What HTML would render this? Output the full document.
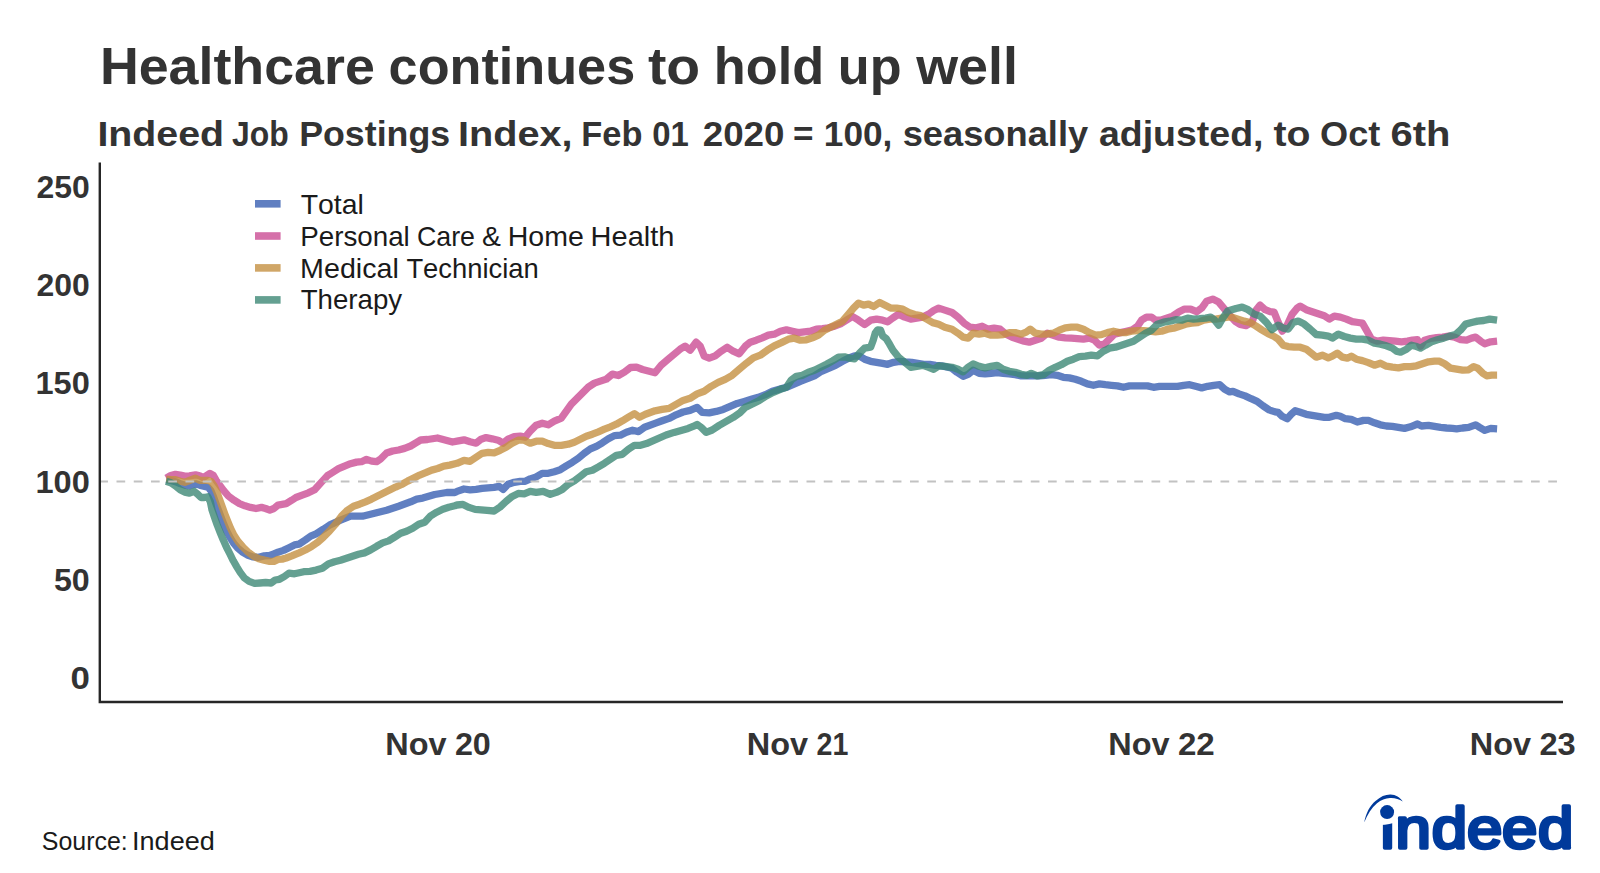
<!DOCTYPE html>
<html lang="en"><head><meta charset="utf-8"><title>Healthcare continues to hold up well</title>
<style>
html,body{margin:0;padding:0;background:#fff;}
body{width:1600px;height:873px;overflow:hidden;font-family:"Liberation Sans",sans-serif;}
svg{display:block;}
text{font-family:"Liberation Sans",sans-serif;font-kerning:none;white-space:pre;}
.b{font-weight:700;fill:#333333;}
.r{font-weight:400;fill:#1a1a1a;}
.title{font-size:52px;}
.sub{font-size:35.6px;}
.tick{font-size:32px;}
.leg{font-size:27.2px;}
.src{font-size:25px;}
.logo{font-weight:400;fill:#003a9b;stroke:#003a9b;stroke-width:3.4;stroke-linejoin:round;stroke-linecap:round;font-size:57.8px;}
</style></head>
<body>
<svg width="1600" height="873" viewBox="0 0 1600 873">
<rect width="1600" height="873" fill="#ffffff"/>
<text class="b title" y="84.0"><tspan x="99.9" textLength="274.9" lengthAdjust="spacingAndGlyphs">Healthcare</tspan> <tspan x="388.6" textLength="246.6" lengthAdjust="spacingAndGlyphs">continues</tspan> <tspan x="647.9" textLength="52.2" lengthAdjust="spacingAndGlyphs">to</tspan> <tspan x="713.8" textLength="110.3" lengthAdjust="spacingAndGlyphs">hold</tspan> <tspan x="837.8" textLength="63.8" lengthAdjust="spacingAndGlyphs">up</tspan> <tspan x="916.2" textLength="101.7" lengthAdjust="spacingAndGlyphs">well</tspan></text>
<text class="b sub" y="145.9"><tspan x="97.4" textLength="126.6" lengthAdjust="spacingAndGlyphs">Indeed</tspan> <tspan x="232.0" textLength="56.7" lengthAdjust="spacingAndGlyphs">Job</tspan> <tspan x="299.2" textLength="150.9" lengthAdjust="spacingAndGlyphs">Postings</tspan> <tspan x="457.9" textLength="114.7" lengthAdjust="spacingAndGlyphs">Index,</tspan> <tspan x="581.3" textLength="61.1" lengthAdjust="spacingAndGlyphs">Feb</tspan> <tspan x="652.3" textLength="36.6" lengthAdjust="spacingAndGlyphs">01</tspan> <tspan x="702.7" textLength="81.8" lengthAdjust="spacingAndGlyphs">2020</tspan> <tspan x="792.9" textLength="20.5" lengthAdjust="spacingAndGlyphs">=</tspan> <tspan x="823.8" textLength="68.6" lengthAdjust="spacingAndGlyphs">100,</tspan> <tspan x="902.7" textLength="185.5" lengthAdjust="spacingAndGlyphs">seasonally</tspan> <tspan x="1098.9" textLength="164.6" lengthAdjust="spacingAndGlyphs">adjusted,</tspan> <tspan x="1273.5" textLength="37.0" lengthAdjust="spacingAndGlyphs">to</tspan> <tspan x="1320.1" textLength="60.3" lengthAdjust="spacingAndGlyphs">Oct</tspan> <tspan x="1390.5" textLength="59.9" lengthAdjust="spacingAndGlyphs">6th</tspan></text>
<g id="series">
<path d="M166.2 479.7 L170.8 480.5 L175.5 481.7 L180.1 483.6 L184.7 485.1 L189.4 485.9 L195.5 483.8 L199.6 485.1 L203.8 486.2 L207.9 487.2 L210.9 490.6 L213.2 496.1 L215.7 503.0 L218.3 509.9 L221.1 517.4 L223.8 524.3 L226.8 531.2 L230.0 537.4 L233.4 542.9 L237.4 547.7 L242.1 551.8 L247.3 555.0 L252.6 556.9 L258.8 557.3 L264.2 555.9 L269.8 555.5 L273.9 553.9 L278.0 552.2 L283.5 550.4 L289.0 547.7 L294.5 544.9 L299.1 544.1 L305.3 540.0 L310.7 536.1 L316.1 533.8 L323.4 529.2 L329.4 525.2 L340.5 520.2 L350.5 516.2 L362.5 516.2 L374.6 513.2 L386.6 510.2 L398.6 506.2 L410.7 501.8 L416.7 499.1 L422.7 498.1 L434.7 494.5 L446.7 492.5 L454.8 492.5 L457.0 491.4 L464.0 489.0 L470.1 489.8 L476.1 489.4 L482.1 488.4 L488.1 487.8 L494.1 487.4 L499.1 486.4 L503.1 489.4 L508.1 484.3 L514.2 482.3 L520.2 481.3 L525.2 481.3 L530.2 478.9 L536.2 476.9 L542.2 473.3 L548.2 473.3 L554.3 471.7 L560.3 469.7 L566.3 465.9 L572.3 462.3 L578.3 458.3 L584.3 453.3 L590.4 448.9 L596.4 446.3 L602.4 442.8 L608.4 438.8 L614.4 435.6 L620.4 435.2 L626.4 432.2 L632.5 430.2 L638.5 431.6 L644.5 427.2 L655.0 423.4 L662.1 420.8 L669.1 418.4 L676.1 414.8 L683.1 412.0 L690.1 410.4 L697.1 407.4 L702.2 412.4 L709.2 412.8 L716.2 411.4 L723.2 409.4 L730.2 406.4 L737.2 403.4 L744.3 401.4 L751.3 399.3 L758.3 397.3 L765.3 394.7 L772.3 391.3 L779.3 389.3 L786.4 387.3 L793.4 384.3 L800.4 381.3 L807.4 378.7 L814.4 375.9 L821.5 371.3 L828.5 368.3 L835.5 365.3 L842.5 361.3 L848.5 358.2 L854.5 355.8 L859.5 356.2 L864.6 359.2 L870.6 361.3 L876.6 362.3 L882.6 363.3 L887.6 364.3 L893.6 362.3 L899.6 361.3 L905.7 361.9 L911.7 362.3 L917.7 363.3 L923.7 364.3 L929.7 364.3 L935.7 365.3 L941.8 365.9 L947.8 367.3 L952.0 368.3 L957.0 372.3 L963.1 376.3 L968.1 374.3 L973.1 370.3 L979.1 373.3 L985.1 373.9 L991.1 373.3 L997.1 372.7 L1003.2 373.3 L1009.2 373.9 L1015.2 374.7 L1021.2 375.9 L1027.2 375.9 L1033.2 375.9 L1039.2 375.9 L1045.3 375.3 L1051.3 374.7 L1057.3 375.3 L1063.3 377.3 L1069.3 377.9 L1075.3 379.3 L1081.4 381.3 L1087.4 383.9 L1093.4 385.3 L1099.4 383.9 L1105.4 384.7 L1111.4 385.3 L1117.4 385.9 L1123.5 387.3 L1129.5 385.9 L1135.5 385.9 L1141.5 385.9 L1147.5 385.9 L1153.5 387.3 L1159.5 386.3 L1165.6 386.3 L1171.6 386.3 L1177.6 386.3 L1183.6 385.3 L1189.6 384.7 L1195.6 386.3 L1201.7 387.9 L1207.7 386.3 L1213.7 385.3 L1219.7 384.7 L1224.7 389.3 L1229.7 391.9 L1233.0 391.3 L1239.0 393.9 L1245.1 395.9 L1251.1 398.7 L1257.1 401.3 L1263.1 405.9 L1269.1 409.9 L1275.1 411.9 L1278.1 412.3 L1282.2 416.3 L1287.2 418.7 L1291.2 414.3 L1295.2 410.7 L1300.2 412.3 L1306.2 414.3 L1312.2 415.3 L1318.2 416.3 L1324.3 417.3 L1329.3 417.3 L1336.3 415.3 L1340.3 416.3 L1345.3 418.7 L1351.3 419.3 L1357.3 422.0 L1363.4 420.4 L1368.4 420.4 L1374.4 422.8 L1380.4 424.8 L1386.4 426.0 L1392.4 426.4 L1398.4 427.4 L1404.5 428.4 L1410.5 426.8 L1417.5 424.0 L1421.5 426.0 L1428.5 425.4 L1434.5 426.4 L1440.6 427.4 L1446.6 428.0 L1452.6 428.4 L1456.6 428.8 L1462.6 428.0 L1468.6 427.4 L1475.6 424.8 L1479.6 427.4 L1484.7 430.4 L1490.7 428.4 L1497.1 428.8" fill="none" stroke="#385fb1" stroke-opacity="0.8" stroke-width="7.3" stroke-linejoin="round" stroke-linecap="butt"/>
<path d="M166.2 478.1 L170.8 475.5 L175.5 474.3 L180.1 475.0 L184.7 476.1 L189.4 475.8 L195.5 474.8 L199.6 475.8 L203.1 477.6 L206.5 475.5 L209.9 473.4 L213.4 475.5 L216.1 480.3 L219.6 485.1 L223.7 490.6 L228.5 496.1 L234.0 500.2 L239.5 503.7 L245.0 505.8 L250.5 507.4 L256.0 508.5 L261.5 507.4 L265.6 508.5 L269.8 510.1 L273.9 508.5 L278.0 505.1 L282.1 504.4 L286.2 503.7 L291.8 500.2 L295.9 497.5 L302.2 495.1 L308.4 492.8 L314.6 489.7 L322.4 481.1 L327.4 475.7 L332.5 472.5 L338.5 468.7 L344.5 466.1 L350.5 463.7 L356.5 462.1 L361.5 461.7 L366.5 459.4 L371.6 461.1 L376.6 461.7 L380.6 459.0 L386.6 453.0 L392.6 451.0 L398.6 450.0 L404.6 448.4 L410.7 446.0 L416.7 442.4 L420.7 440.0 L427.5 439.5 L437.5 438.0 L445.0 440.0 L452.5 442.0 L457.0 441.2 L464.0 439.8 L470.1 441.8 L476.1 443.2 L481.1 439.2 L486.1 437.6 L492.1 438.8 L498.1 440.2 L503.1 443.2 L508.1 439.2 L514.2 436.6 L520.2 436.2 L525.2 437.2 L530.2 431.2 L536.2 425.2 L542.2 423.2 L548.2 424.8 L554.3 421.2 L561.3 418.2 L566.3 411.2 L571.3 404.1 L577.3 398.1 L583.3 392.1 L588.3 387.1 L594.4 383.1 L600.4 381.1 L606.4 379.1 L612.4 374.1 L618.4 375.5 L624.4 372.1 L630.5 367.5 L636.5 367.1 L642.5 369.5 L655.0 372.7 L661.1 365.3 L668.1 359.2 L674.1 354.2 L680.1 349.2 L685.1 346.2 L690.1 350.2 L696.1 342.2 L700.2 346.2 L704.2 356.2 L709.2 358.2 L715.2 355.8 L721.2 351.2 L727.2 347.2 L733.2 351.2 L739.2 353.8 L745.3 346.2 L750.3 342.2 L756.3 340.2 L762.3 337.8 L768.3 335.2 L774.3 334.2 L780.4 331.2 L786.4 329.8 L792.4 331.2 L798.4 332.6 L804.4 331.8 L810.4 331.2 L816.4 329.2 L822.5 328.6 L828.5 327.8 L834.5 326.2 L840.5 323.8 L846.5 320.2 L852.5 316.5 L858.5 320.2 L864.6 324.6 L870.6 320.2 L876.6 319.1 L882.6 320.2 L887.6 321.8 L892.6 318.1 L898.6 314.1 L904.7 317.1 L910.7 319.1 L916.7 318.1 L922.7 317.1 L928.7 314.1 L933.7 310.5 L938.7 308.1 L944.8 310.1 L952.0 312.5 L958.0 317.1 L964.1 323.2 L970.1 327.2 L976.1 327.8 L982.1 326.2 L988.1 329.2 L994.1 328.2 L1000.2 329.2 L1006.2 334.2 L1012.2 337.2 L1018.2 339.2 L1024.2 341.2 L1029.2 342.2 L1035.2 340.2 L1041.3 338.2 L1047.3 333.2 L1053.3 335.2 L1059.3 337.2 L1065.3 337.8 L1071.3 338.2 L1077.3 338.6 L1083.4 339.2 L1089.4 338.2 L1094.4 340.2 L1099.4 345.2 L1104.4 344.2 L1109.4 339.2 L1114.4 334.2 L1120.5 332.6 L1126.5 331.2 L1132.5 329.8 L1137.5 326.2 L1141.5 320.2 L1146.5 317.1 L1151.5 317.1 L1155.5 320.2 L1160.6 320.2 L1166.6 318.1 L1172.6 316.1 L1178.6 312.1 L1184.6 309.1 L1190.6 309.1 L1196.6 311.7 L1201.7 308.1 L1206.7 301.1 L1212.7 299.1 L1218.7 302.1 L1223.7 308.1 L1228.7 314.1 L1235.0 321.1 L1240.1 324.5 L1246.1 325.7 L1252.1 322.1 L1256.1 310.1 L1260.1 305.1 L1265.1 309.7 L1270.1 311.7 L1274.1 312.1 L1278.1 322.1 L1282.2 331.1 L1287.2 325.1 L1292.2 314.1 L1297.2 308.1 L1300.2 306.1 L1306.2 309.7 L1312.2 311.7 L1318.2 313.7 L1324.3 315.7 L1329.3 319.1 L1334.3 316.1 L1340.3 317.1 L1346.3 319.1 L1352.3 321.7 L1358.3 322.5 L1362.4 323.1 L1366.4 330.1 L1371.4 339.1 L1377.4 341.2 L1383.4 340.2 L1389.4 340.6 L1395.4 341.2 L1401.5 341.8 L1407.5 341.2 L1412.5 340.2 L1417.5 339.7 L1420.5 346.2 L1424.5 340.2 L1430.5 338.5 L1436.5 337.7 L1442.6 337.1 L1448.6 336.1 L1454.6 337.1 L1460.6 339.7 L1466.6 340.2 L1471.6 338.1 L1475.6 337.1 L1480.7 341.2 L1484.7 343.8 L1490.7 341.8 L1497.1 341.2" fill="none" stroke="#cb4c94" stroke-opacity="0.8" stroke-width="7.3" stroke-linejoin="round" stroke-linecap="butt"/>
<path d="M166.2 479.2 L170.8 479.7 L175.5 479.7 L180.1 481.2 L184.7 482.3 L189.4 480.5 L195.5 478.2 L199.6 480.3 L203.8 480.3 L207.9 480.3 L211.3 481.7 L214.1 485.8 L216.8 492.0 L219.6 499.6 L222.3 507.1 L225.1 514.7 L227.8 521.6 L230.6 528.4 L234.0 535.3 L238.1 541.5 L242.9 547.0 L247.8 551.8 L253.2 555.9 L258.8 558.7 L264.2 560.1 L269.8 561.4 L273.9 561.4 L278.0 559.4 L282.1 559.1 L286.2 558.0 L291.8 555.9 L295.9 554.1 L299.1 552.8 L305.3 550.0 L311.5 546.6 L317.7 542.3 L323.4 537.2 L329.4 531.2 L335.5 524.2 L341.5 516.2 L347.5 510.2 L353.5 506.2 L359.5 504.2 L365.5 501.8 L371.6 499.1 L377.6 496.1 L383.6 493.1 L389.6 490.1 L395.6 487.1 L401.6 484.5 L407.6 481.1 L413.7 478.1 L419.7 475.1 L425.7 472.7 L431.7 470.1 L437.7 468.5 L443.7 466.1 L449.7 465.1 L457.0 463.3 L464.0 460.3 L470.1 461.3 L476.1 457.3 L482.1 453.3 L488.1 452.3 L494.1 452.9 L500.1 450.3 L506.1 447.3 L512.2 443.2 L518.2 440.2 L524.2 440.2 L530.2 443.2 L536.2 441.2 L542.2 441.2 L548.2 443.6 L554.3 445.3 L561.3 445.3 L568.3 444.2 L574.3 442.2 L580.3 439.2 L586.3 436.2 L592.4 434.2 L598.4 431.8 L604.4 429.2 L610.4 426.8 L616.4 424.2 L622.4 420.8 L628.4 417.2 L634.5 413.6 L639.5 417.2 L645.5 414.2 L655.0 410.8 L662.1 409.4 L669.1 408.4 L676.1 404.4 L683.1 400.4 L690.1 398.3 L697.1 393.9 L704.2 391.3 L711.2 386.3 L718.2 382.3 L725.2 379.3 L732.2 375.3 L739.2 369.3 L746.3 363.3 L753.3 357.8 L760.3 355.2 L767.3 350.2 L774.3 345.8 L781.4 342.6 L788.4 339.2 L794.4 338.2 L800.4 340.2 L806.4 339.8 L812.4 337.8 L818.4 335.2 L824.5 330.2 L830.5 327.2 L836.5 324.2 L842.5 321.2 L848.5 314.1 L853.5 308.1 L858.5 303.1 L863.6 305.1 L868.6 304.1 L873.6 306.5 L879.6 302.5 L884.6 305.1 L890.6 308.1 L896.6 308.1 L902.7 309.1 L908.7 312.5 L914.7 314.5 L920.7 315.7 L926.7 319.1 L932.7 322.6 L938.7 324.2 L944.8 327.2 L952.0 329.2 L958.0 333.2 L963.1 337.2 L968.1 338.2 L973.1 333.2 L979.1 334.2 L985.1 333.2 L991.1 335.2 L997.1 335.2 L1003.2 334.6 L1009.2 332.6 L1015.2 332.6 L1021.2 334.2 L1026.2 332.2 L1030.2 329.2 L1035.2 333.2 L1041.3 334.2 L1047.3 333.8 L1053.3 333.2 L1059.3 330.2 L1065.3 327.8 L1071.3 327.2 L1077.3 327.2 L1083.4 329.2 L1089.4 332.6 L1095.4 335.2 L1101.4 334.6 L1107.4 332.6 L1113.4 331.2 L1119.4 332.6 L1125.5 332.6 L1131.5 331.2 L1137.5 330.6 L1143.5 330.6 L1149.5 331.2 L1155.5 331.8 L1161.6 331.2 L1167.6 329.2 L1173.6 328.2 L1179.6 326.2 L1185.6 324.2 L1191.6 323.2 L1197.6 322.6 L1203.7 320.2 L1209.7 319.1 L1215.7 319.1 L1221.7 318.1 L1227.7 317.1 L1232.0 317.1 L1238.0 319.1 L1244.1 321.1 L1250.1 322.5 L1256.1 326.1 L1262.1 330.1 L1268.1 333.7 L1274.1 336.5 L1278.1 339.1 L1283.2 345.2 L1288.2 346.6 L1294.2 347.2 L1300.2 347.2 L1306.2 349.2 L1311.2 353.2 L1316.2 357.2 L1322.3 355.2 L1328.3 357.8 L1332.3 356.2 L1337.3 353.2 L1342.3 357.2 L1347.3 358.2 L1351.3 356.2 L1356.3 359.2 L1362.4 360.6 L1368.4 362.6 L1374.4 365.2 L1380.4 363.2 L1386.4 366.2 L1392.4 367.2 L1398.4 367.8 L1404.5 366.6 L1410.5 366.6 L1416.5 365.8 L1422.5 363.8 L1428.5 361.8 L1434.5 361.2 L1439.5 361.2 L1444.6 363.8 L1450.6 368.2 L1456.6 369.2 L1462.6 370.2 L1468.6 369.8 L1473.6 366.6 L1477.6 368.2 L1482.7 373.2 L1486.7 375.8 L1491.7 375.2 L1497.1 375.2" fill="none" stroke="#c49041" stroke-opacity="0.8" stroke-width="7.3" stroke-linejoin="round" stroke-linecap="butt"/>
<path d="M166.2 481.2 L170.8 482.8 L175.5 485.9 L180.1 489.7 L184.7 492.1 L189.4 493.1 L194.1 491.3 L197.6 494.1 L201.0 497.5 L204.4 497.5 L207.9 496.8 L210.3 501.6 L212.0 509.9 L214.5 517.4 L217.2 525.0 L220.2 532.6 L223.3 540.1 L226.4 547.0 L229.9 553.9 L233.3 560.8 L236.8 566.9 L240.2 572.4 L244.3 577.9 L249.1 581.4 L254.6 583.4 L260.1 583.0 L265.6 582.5 L271.1 583.0 L275.2 580.0 L279.4 579.3 L284.2 576.6 L289.0 573.1 L294.5 573.8 L303.8 571.7 L310.0 571.4 L316.1 570.1 L322.4 568.3 L328.4 563.9 L334.5 561.7 L340.5 560.3 L346.5 558.3 L352.5 556.3 L358.5 554.3 L364.5 552.9 L370.6 549.9 L376.6 546.3 L382.6 542.9 L388.6 540.9 L394.6 537.2 L400.6 533.2 L406.6 531.2 L412.7 528.2 L418.7 524.2 L424.7 522.2 L430.7 515.8 L436.7 512.2 L442.7 509.2 L448.7 507.2 L454.8 505.8 L457.0 505.0 L463.0 504.4 L469.0 507.4 L475.1 509.4 L481.1 509.8 L487.1 510.4 L494.1 511.0 L500.1 507.0 L506.1 501.4 L512.2 496.4 L518.2 493.4 L524.2 493.8 L530.2 491.4 L536.2 492.4 L543.2 491.4 L550.3 494.4 L556.3 492.4 L562.3 489.4 L568.3 484.3 L574.3 480.9 L580.3 476.3 L586.3 471.7 L592.4 470.3 L598.4 466.9 L604.4 463.3 L610.4 459.3 L616.4 455.3 L622.4 454.3 L628.4 449.3 L634.5 445.3 L640.5 445.3 L646.5 443.6 L666.1 435.0 L674.1 432.4 L681.1 430.4 L688.1 428.4 L693.1 426.4 L697.1 424.4 L701.2 427.4 L706.2 432.4 L712.2 430.0 L719.2 425.4 L726.2 421.4 L733.2 417.4 L740.3 412.4 L745.3 407.4 L752.3 404.0 L759.3 400.4 L766.3 395.9 L773.3 392.3 L780.4 389.3 L786.4 387.3 L791.4 379.9 L796.4 376.3 L802.4 375.3 L808.4 372.3 L814.4 370.3 L820.5 367.3 L826.5 364.3 L832.5 360.9 L838.5 357.2 L844.5 356.8 L849.5 358.2 L854.5 358.8 L859.5 353.2 L864.6 348.2 L870.6 347.2 L873.2 340.2 L875.2 333.2 L877.6 329.8 L880.6 330.2 L882.6 335.8 L886.2 338.6 L889.6 344.2 L893.0 350.2 L898.6 357.2 L904.7 362.3 L910.7 367.3 L916.7 366.3 L922.7 365.3 L928.7 367.3 L933.7 369.3 L938.7 365.9 L944.8 366.3 L952.0 367.3 L958.0 369.3 L963.1 371.9 L968.1 367.3 L973.1 363.9 L979.1 366.3 L985.1 367.9 L991.1 366.3 L997.1 365.3 L1003.2 369.3 L1009.2 371.3 L1015.2 372.3 L1021.2 374.3 L1027.2 375.3 L1031.2 373.3 L1037.2 375.9 L1043.3 374.7 L1049.3 370.3 L1055.3 367.3 L1061.3 364.7 L1067.3 361.3 L1073.3 359.2 L1079.3 356.6 L1085.4 356.2 L1091.4 355.2 L1097.4 355.8 L1103.4 351.2 L1109.4 348.2 L1115.4 347.2 L1121.5 345.2 L1127.5 343.2 L1133.5 341.2 L1139.5 337.2 L1145.5 333.2 L1151.5 330.2 L1157.5 324.2 L1163.6 322.2 L1169.6 321.2 L1175.6 319.7 L1181.6 320.2 L1187.6 318.1 L1193.6 319.1 L1199.6 318.7 L1205.7 318.1 L1210.7 317.1 L1214.7 320.2 L1218.7 325.2 L1222.7 318.1 L1227.7 311.1 L1236.0 308.5 L1242.1 307.1 L1248.1 309.7 L1254.1 314.1 L1260.1 316.1 L1266.1 322.1 L1272.1 329.7 L1278.1 325.1 L1283.2 328.1 L1288.2 329.1 L1293.2 322.5 L1298.2 321.1 L1304.2 324.1 L1310.2 329.1 L1316.2 334.5 L1322.3 335.1 L1328.3 336.1 L1332.3 338.1 L1338.3 334.1 L1344.3 336.5 L1350.3 338.1 L1356.3 339.1 L1362.4 339.1 L1368.4 340.2 L1374.4 343.2 L1380.4 344.2 L1386.4 345.8 L1392.4 348.2 L1396.4 351.2 L1400.5 352.2 L1406.5 349.2 L1411.5 345.2 L1415.5 346.2 L1420.5 348.2 L1425.5 345.2 L1431.5 341.8 L1437.5 339.7 L1443.6 338.1 L1449.6 336.1 L1455.6 334.5 L1460.6 330.1 L1465.6 324.1 L1471.6 322.5 L1477.6 321.1 L1483.7 320.5 L1489.7 319.1 L1497.1 320.1" fill="none" stroke="#3d8876" stroke-opacity="0.8" stroke-width="7.3" stroke-linejoin="round" stroke-linecap="butt"/>
</g>
<line x1="99.25" y1="481.5" x2="1563" y2="481.5" stroke="#c2c2c2" stroke-width="2.2" stroke-dasharray="8.7 8.55"/>
<path d="M99.8 162.4 V702 H1563" fill="none" stroke="#262626" stroke-width="2.4"/>
<g id="yticks">
<text class="b tick" y="198.1"><tspan x="36.4" textLength="53.3" lengthAdjust="spacingAndGlyphs">250</tspan></text>
<text class="b tick" y="296.3"><tspan x="36.4" textLength="53.3" lengthAdjust="spacingAndGlyphs">200</tspan></text>
<text class="b tick" y="394.4"><tspan x="35.5" textLength="54.3" lengthAdjust="spacingAndGlyphs">150</tspan></text>
<text class="b tick" y="492.6"><tspan x="35.5" textLength="54.3" lengthAdjust="spacingAndGlyphs">100</tspan></text>
<text class="b tick" y="590.7"><tspan x="53.9" textLength="35.8" lengthAdjust="spacingAndGlyphs">50</tspan></text>
<text class="b tick" y="688.9"><tspan x="70.4" textLength="19.4" lengthAdjust="spacingAndGlyphs">0</tspan></text>
</g>
<g id="xticks">
<text class="b tick" y="754.8"><tspan x="385.3" textLength="61.3" lengthAdjust="spacingAndGlyphs">Nov</tspan> <tspan x="454.9" textLength="35.9" lengthAdjust="spacingAndGlyphs">20</tspan></text>
<text class="b tick" y="754.8"><tspan x="746.8" textLength="61.3" lengthAdjust="spacingAndGlyphs">Nov</tspan> <tspan x="816.5" textLength="31.8" lengthAdjust="spacingAndGlyphs">21</tspan></text>
<text class="b tick" y="754.8"><tspan x="1108.3" textLength="61.3" lengthAdjust="spacingAndGlyphs">Nov</tspan> <tspan x="1177.9" textLength="36.8" lengthAdjust="spacingAndGlyphs">22</tspan></text>
<text class="b tick" y="754.8"><tspan x="1469.8" textLength="61.3" lengthAdjust="spacingAndGlyphs">Nov</tspan> <tspan x="1539.4" textLength="36.3" lengthAdjust="spacingAndGlyphs">23</tspan></text>
</g>
<g id="legend">
<rect x="255" y="200.0" width="25.6" height="7.6" fill="#385fb1" fill-opacity="0.8"/>
<text class="r leg" y="213.8"><tspan x="300.7" textLength="63.2" lengthAdjust="spacingAndGlyphs">Total</tspan></text>
<rect x="255" y="232.2" width="25.6" height="7.6" fill="#cb4c94" fill-opacity="0.8"/>
<text class="r leg" y="245.8"><tspan x="300.2" textLength="109.6" lengthAdjust="spacingAndGlyphs">Personal</tspan> <tspan x="416.9" textLength="58.1" lengthAdjust="spacingAndGlyphs">Care</tspan> <tspan x="482.0" textLength="18.9" lengthAdjust="spacingAndGlyphs">&amp;</tspan> <tspan x="507.7" textLength="76.1" lengthAdjust="spacingAndGlyphs">Home</tspan> <tspan x="590.6" textLength="83.8" lengthAdjust="spacingAndGlyphs">Health</tspan></text>
<rect x="255" y="264.1" width="25.6" height="7.6" fill="#c49041" fill-opacity="0.8"/>
<text class="r leg" y="277.5"><tspan x="300.1" textLength="98.8" lengthAdjust="spacingAndGlyphs">Medical</tspan> <tspan x="406.4" textLength="132.4" lengthAdjust="spacingAndGlyphs">Technician</tspan></text>
<rect x="255" y="296.1" width="25.6" height="7.6" fill="#3d8876" fill-opacity="0.8"/>
<text class="r leg" y="309.2"><tspan x="300.7" textLength="101.4" lengthAdjust="spacingAndGlyphs">Therapy</tspan></text>
</g>
<text class="r src" y="849.7"><tspan x="41.8" textLength="86.0" lengthAdjust="spacingAndGlyphs">Source:</tspan> <tspan x="132.0" textLength="82.8" lengthAdjust="spacingAndGlyphs">Indeed</tspan></text>
<g id="logo">
<text class="logo" transform="scale(1.1,1)" x="1254.96 1268.75 1301.58 1333.62 1365.48 1398.17" y="847.8">indeed</text>
<path d="M1377 790 H1397 V821.6 Q1389 825.6 1377 825 Z" fill="#ffffff"/>
<circle cx="1387.1" cy="812.1" r="7" fill="#003a9b"/>
<path d="M1364.2 822.4 C1366 813 1370 805.5 1375.5 801 C1380.5 796.5 1385.5 794.4 1390.5 794.5 C1395.8 794.6 1400 797.5 1402.8 801.6 C1399 798.9 1394.5 797.7 1390 798 C1385.5 798.2 1381 799.9 1377 803.3 C1371.5 808 1367.5 814.5 1364.2 822.4 Z" fill="#003a9b"/>
</g>
</svg>
</body></html>
